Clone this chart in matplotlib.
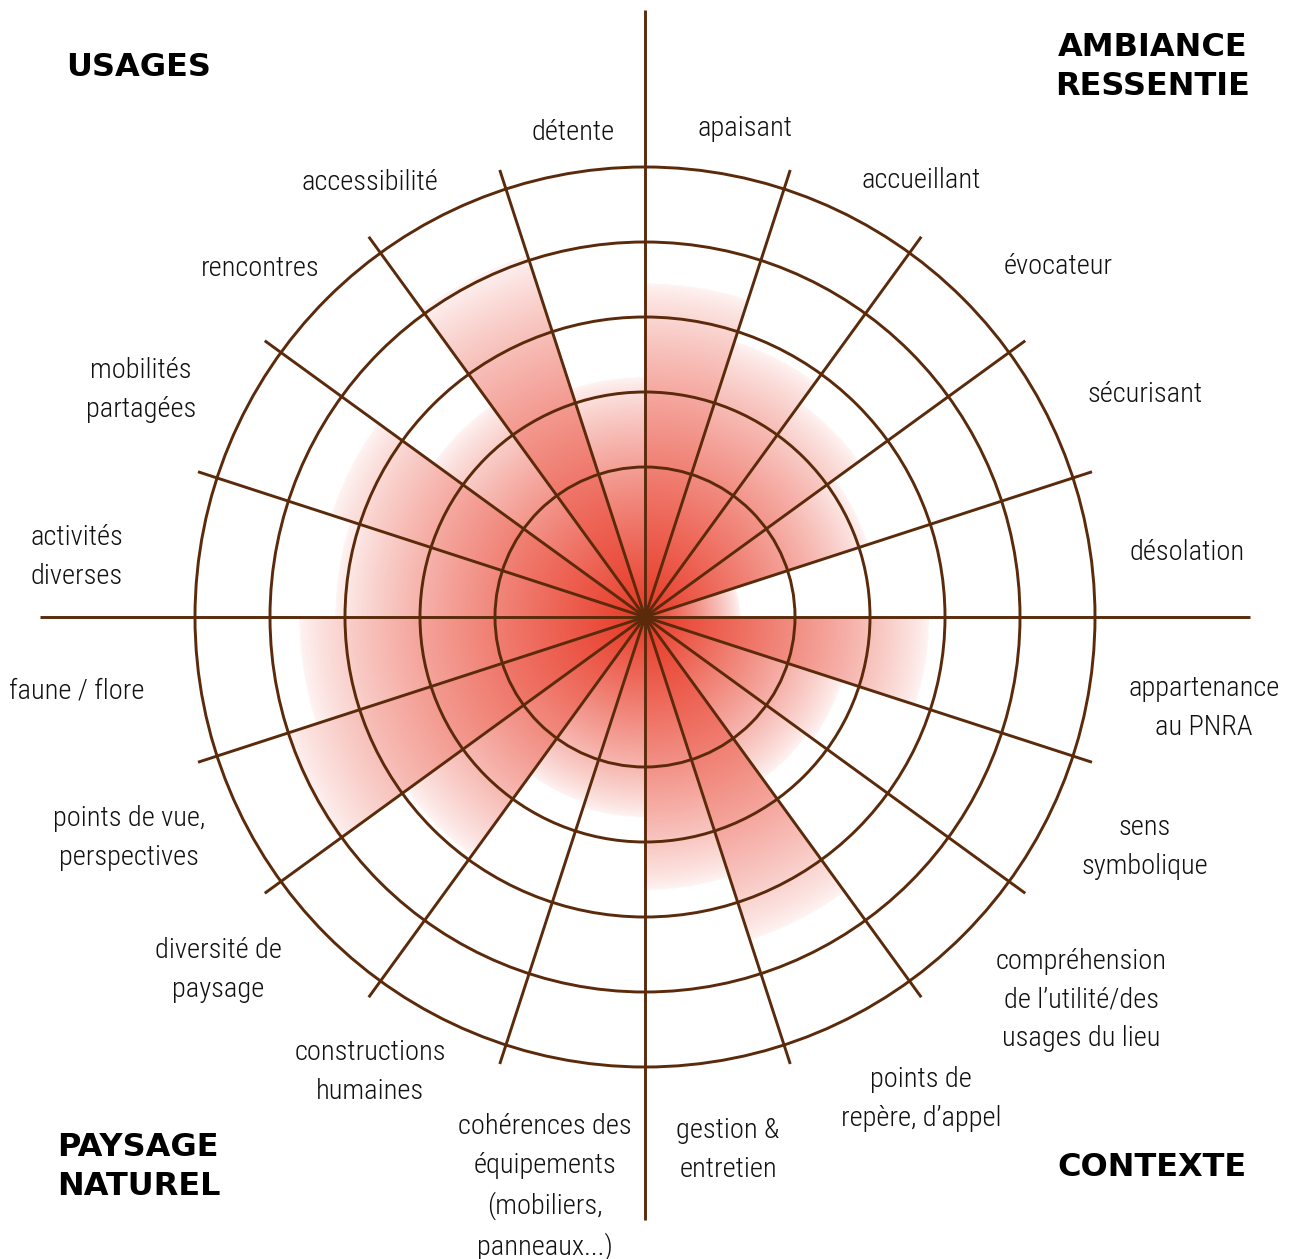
import numpy as np
import matplotlib
matplotlib.use("Agg")
import matplotlib.pyplot as plt
from matplotlib.patches import Circle

# sectors, clockwise from north, 18 degrees each
criteres = ["apaisant", "accueillant", "évocateur", "sécurisant", "désolation",
            "appartenance\nau PNRA", "sens\nsymbolique",
            "compréhension\nde l’utilité/des\nusages du lieu",
            "points de\nrepère, d’appel", "gestion &\nentretien",
            "cohérences des\néquipements\n(mobiliers,\npanneaux...)",
            "constructions\nhumaines", "diversité de\npaysage",
            "points de vue,\nperspectives", "faune / flore",
            "activités\ndiverses", "mobilités\npartagées", "rencontres",
            "accessibilité", "détente"]
notes = [4.45, 3.87, 3.53, 3.13, 1.27,
         3.79, 2.77, 2.67, 4.53, 3.64,
         2.67, 2.60, 3.93, 5.04, 4.61,
         4.13, 4.40, 3.49, 5.07, 3.20]
cercles = [2, 3, 4, 5, 6]
familles = ["USAGES", "AMBIANCE\nRESSENTIE", "PAYSAGE\nNATUREL", "CONTEXTE"]

# layout (pixel positions in the 1293x1259 picture, centre at 645,617)
W, H = 1293, 1259
CX, CY = 645, 617
S = 75.0
label_px = [(745, 128), (921, 180), (1058, 267), (1145, 394), (1187, 553),
            (1204, 708), (1145, 847), (1081, 1000), (921, 1099), (728, 1150),
            (545, 1187), (370, 1072), (218, 970), (129, 838), (77, 691),
            (77, 557), (141, 390), (260, 268), (370, 183), (573, 133)]
titre_px = [(66, 67, "left"), (1153, 67, "center"), (57, 1167, "left"), (1152, 1167, "center")]

brun = "#5a2a0b"
rouge = np.array([232, 57, 38]) / 255.0

def u(px, py):
    return (px - CX) / S, (CY - py) / S

fig = plt.figure(figsize=(W / 100, H / 100), dpi=100)
ax = fig.add_axes([0, 0, 1, 1])
ax.set_xlim(-CX / S, (W - CX) / S)
ax.set_ylim(-(H - CY) / S, CY / S)
ax.axis("off")

# radial gradient wedges
n = 1400
xs = np.linspace(-7, 7, n)
X, Y = np.meshgrid(xs, xs)
R = np.hypot(X, Y)
theta = np.degrees(np.arctan2(X, Y)) % 360
idx = np.clip((theta // 18).astype(int), 0, 19)
vals = np.array(notes)[idx]
t = R / vals
img = np.ones((n, n, 4))
alpha = 0.05 + 0.95 * np.clip(1 - t, 0, 1) ** 0.8
for c in range(3):
    img[..., c] = rouge[c] * alpha + (1 - alpha)
img[..., 3] = np.where(t <= 1, 1.0, 0.0)
ax.imshow(img, extent=(-7, 7, -7, 7), origin="lower", interpolation="bilinear", zorder=1)

# grid
for k in cercles:
    ax.add_patch(Circle((0, 0), k, fill=False, ec=brun, lw=2.1, zorder=3))
for i in range(len(criteres)):
    a = np.radians(i * 18)
    L = 470 / S
    if i == 0:
        L = 607 / S
    elif i == 10:
        L = 603 / S
    elif i in (5, 15):
        L = 605 / S
    ax.plot([0, L * np.sin(a)], [0, L * np.cos(a)], color=brun, lw=2.1, zorder=3,
            solid_capstyle="butt")

fam_txt = ["Liberation Sans Narrow", "Roboto Condensed", "DejaVu Sans"]
for lab, (px, py) in zip(criteres, label_px):
    x, y = u(px, py)
    ax.text(x, y, lab, ha="center", va="center", fontsize=20.5, family=fam_txt,
            fontweight="light", color="#111111", linespacing=1.55, zorder=4)

for lab, (px, py, ha) in zip(familles, titre_px):
    x, y = u(px, py)
    ax.text(x, y, lab, ha=ha, va="center", fontsize=23, family="DejaVu Sans",
            fontweight="heavy", color="black", linespacing=1.3, zorder=4,
            multialignment="center" if ha == "center" else "left")

fig.savefig("out.png", dpi=100)
